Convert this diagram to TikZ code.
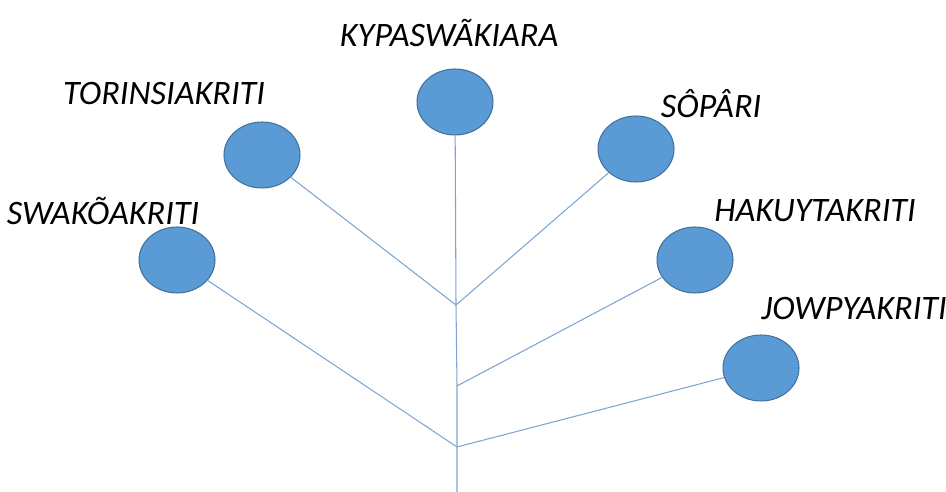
\documentclass[tikz,border=0pt]{standalone}
\usepackage{fontspec}
\setmainfont{Carlito}
\usepackage{tikz}
\usetikzlibrary{shapes.geometric}

\definecolor{leaffill}{RGB}{91,155,213}
\definecolor{leafedge}{RGB}{65,113,156}
\definecolor{stem}{RGB}{125,165,210}

\begin{document}
\begin{tikzpicture}[x=0.02cm,y=-0.02cm,
  leaf/.style={ellipse,draw=leafedge,fill=leaffill,line width=0.6pt,
    minimum width=1.52cm,minimum height=1.32cm,inner sep=0pt},
  leafname/.style={font=\fontsize{19.5}{22}\selectfont\itshape},
  branch/.style={draw=stem,line width=0.6pt}]
\useasboundingbox (0,0) rectangle (946,492);
% the circles
\node [leaf] (kyp) at (455,102) {};
\node [leaf] (tor) at (262,155) {};
\node [leaf] (swa) at (177,260) {};
\node [leaf] (sop) at (636,149) {};
\node [leaf] (hak) at (695,260) {};
\node [leaf] (jow) at (761,368) {};
% their names
\node [leafname] (kypname) at (449,33) {KYPASWÃKIARA};
\node [leafname] (torname) at (164,94) {TORINSIAKRITI};
\node [leafname] (swaname) at (103,211) {SWAKÕAKRITI};
\node [leafname] (sopname) at (711,104) {SÔPÂRI};
\node [leafname] (hakname) at (815,211) {HAKUYTAKRITI};
\node [leafname] (jowname) at (854,309) {JOWPYAKRITI};
% stem and branches
\coordinate (j1) at (456,305);
\coordinate (j2) at (457,386);
\coordinate (j3) at (457,447);
\coordinate (root) at (457,492);
\draw [branch] (kyp) -- (j1) -- (j2) -- (j3) -- (root);
\draw [branch] (tor) -- (j1);
\draw [branch] (sop) -- (j1);
\draw [branch] (hak) -- (j2);
\draw [branch] (swa) -- (j3);
\draw [branch] (jow) -- (j3);
\end{tikzpicture}
\end{document}
